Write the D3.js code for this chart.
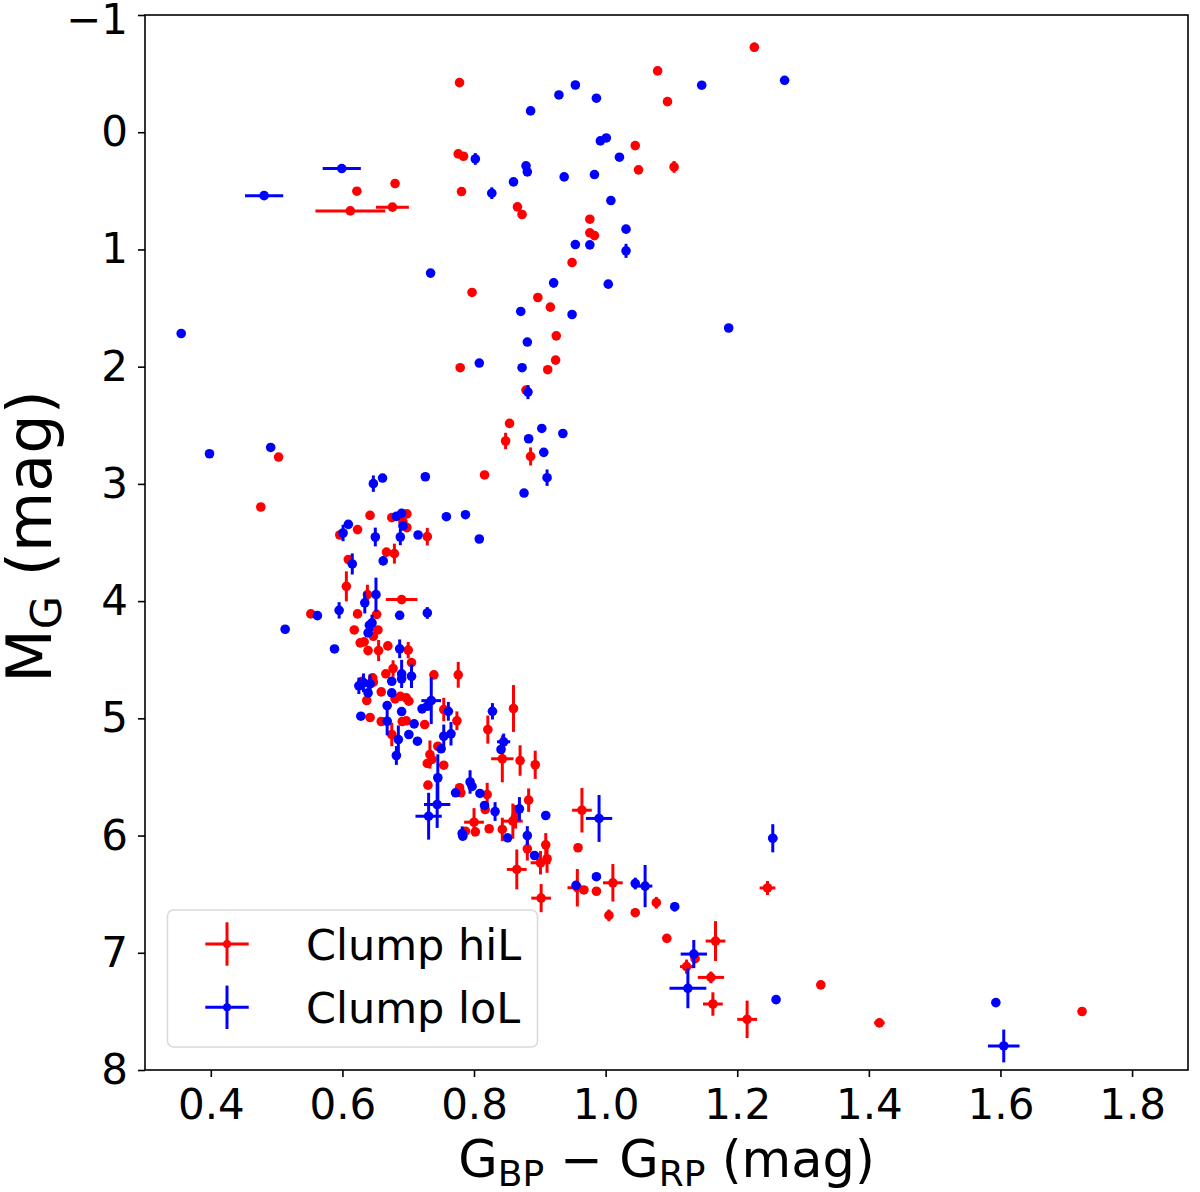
<!DOCTYPE html>
<html>
<head>
<meta charset="utf-8">
<script src="https://cdn.jsdelivr.net/npm/d3@7"></script>
<style>
  html, body { margin: 0; padding: 0; background: #fff; }
  svg { display: block; font-family: "DejaVu Sans", sans-serif; }
</style>
</head>
<body>
<div id="chart"></div>
<script>
// rows: [G_BP - G_RP, M_G, colour error, M_G error]
const hiL = [
  [0.778, -0.423, 0, 0], [0.776, 0.185, 0, 0], [0.784, 0.205, 0, 0], [0.622, 0.503, 0, 0],
  [0.680, 0.438, 0, 0], [0.612, 0.671, 0.053, 0], [0.676, 0.639, 0.025, 0], [0.781, 0.506, 0, 0],
  [0.866, 0.637, 0, 0], [0.873, 0.702, 0, 0], [0.797, 1.367, 0, 0], [0.897, 1.410, 0, 0],
  [0.916, 1.492, 0, 0], [1.226, -0.725, 0, 0.04], [1.079, -0.523, 0, 0], [1.094, -0.261, 0, 0],
  [1.045, 0.114, 0, 0], [1.050, 0.321, 0, 0], [1.104, 0.296, 0, 0.05], [0.976, 0.742, 0, 0],
  [0.976, 0.858, 0, 0], [0.983, 0.882, 0, 0], [0.949, 1.112, 0, 0], [0.925, 1.737, 0, 0],
  [0.924, 1.944, 0, 0], [0.912, 2.026, 0, 0], [0.779, 2.009, 0, 0], [0.879, 2.200, 0, 0],
  [0.854, 2.484, 0, 0], [0.848, 2.634, 0, 0.07], [0.886, 2.766, 0, 0.077], [0.816, 2.924, 0, 0],
  [0.503, 2.771, 0, 0], [0.476, 3.197, 0, 0], [0.642, 3.269, 0, 0], [0.675, 3.288, 0, 0],
  [0.698, 3.256, 0, 0], [0.692, 3.325, 0, 0], [0.698, 3.373, 0, 0], [0.596, 3.436, 0, 0],
  [0.623, 3.390, 0, 0], [0.729, 3.450, 0, 0.075], [0.667, 3.582, 0, 0], [0.679, 3.595, 0, 0.085],
  [0.609, 3.646, 0, 0], [0.606, 3.874, 0, 0.128], [0.690, 3.987, 0.024, 0], [0.638, 3.945, 0, 0.085],
  [0.552, 4.109, 0, 0], [0.623, 4.109, 0, 0], [0.652, 4.113, 0, 0], [0.618, 4.246, 0, 0],
  [0.654, 4.246, 0, 0], [0.627, 4.356, 0, 0], [0.633, 4.348, 0, 0], [0.647, 4.300, 0, 0],
  [0.639, 4.422, 0, 0], [0.655, 4.422, 0, 0.09], [0.669, 4.382, 0, 0], [0.700, 4.418, 0, 0.07],
  [0.705, 4.524, 0, 0], [0.677, 4.575, 0, 0.07], [0.666, 4.620, 0, 0], [0.739, 4.629, 0, 0],
  [0.776, 4.629, 0, 0.11], [0.646, 4.655, 0, 0], [0.630, 4.684, 0, 0], [0.647, 4.692, 0, 0],
  [0.637, 4.848, 0, 0], [0.659, 4.774, 0, 0], [0.680, 4.834, 0, 0], [0.688, 4.812, 0, 0],
  [0.697, 4.825, 0, 0], [0.701, 4.854, 0, 0], [0.642, 4.993, 0, 0], [0.659, 5.027, 0, 0],
  [0.691, 5.027, 0, 0], [0.697, 5.021, 0, 0], [0.725, 5.053, 0, 0], [0.754, 4.925, 0, 0.1],
  [0.774, 5.021, 0, 0.08], [0.860, 4.916, 0, 0.2], [0.821, 5.096, 0, 0.12], [0.843, 5.345, 0.017, 0.2],
  [0.870, 5.360, 0, 0.13], [0.893, 5.396, 0, 0.12], [0.675, 5.138, 0, 0.1], [0.745, 5.238, 0, 0],
  [0.733, 5.309, 0, 0.12], [0.736, 5.351, 0, 0], [0.729, 5.385, 0, 0], [0.754, 5.400, 0, 0],
  [0.730, 5.570, 0, 0], [0.778, 5.592, 0, 0], [0.780, 5.635, 0, 0], [0.820, 5.650, 0, 0.1],
  [0.817, 5.778, 0, 0], [0.800, 5.886, 0.015, 0.12], [0.787, 5.963, 0, 0], [0.802, 5.968, 0, 0],
  [0.823, 5.942, 0, 0], [0.843, 5.948, 0, 0.1], [0.859, 5.877, 0.015, 0.15], [0.863, 5.840, 0, 0.1],
  [0.883, 5.698, 0, 0.1], [0.881, 6.113, 0, 0.1], [0.909, 6.079, 0, 0.1], [0.901, 6.232, 0.015, 0.1],
  [0.911, 6.198, 0, 0.12], [0.865, 6.289, 0.015, 0.17], [0.902, 6.534, 0.015, 0.12], [0.964, 5.784, 0.015, 0.19],
  [0.958, 6.104, 0, 0], [0.957, 6.445, 0.015, 0.16], [0.967, 6.464, 0, 0], [0.986, 6.475, 0, 0],
  [1.011, 6.403, 0.015, 0.16], [1.005, 6.681, 0, 0.05], [1.045, 6.658, 0, 0], [1.077, 6.573, 0, 0.05],
  [1.093, 6.877, 0, 0], [1.136, 7.050, 0, 0], [1.123, 7.118, 0.01, 0.06], [1.167, 6.900, 0.015, 0.17],
  [1.160, 7.210, 0.02, 0.05], [1.163, 7.437, 0.015, 0.1], [1.215, 7.568, 0.015, 0.16], [1.246, 6.447, 0.012, 0.06],
  [1.327, 7.274, 0, 0], [1.416, 7.598, 0.008, 0.03], [1.724, 7.501, 0, 0.02]
];

const loL = [
  [0.929, -0.318, 0, 0], [0.886, -0.182, 0, 0], [0.802, 0.228, 0, 0.05], [0.879, 0.287, 0, 0],
  [0.881, 0.338, 0, 0], [0.937, 0.381, 0, 0], [0.599, 0.310, 0.029, 0], [0.481, 0.541, 0.029, 0],
  [0.827, 0.520, 0, 0.05], [0.860, 0.424, 0, 0], [0.734, 1.202, 0, 0], [0.921, 1.285, 0, 0.04],
  [0.871, 1.529, 0, 0], [1.272, -0.443, 0, 0], [1.146, -0.401, 0, 0], [0.954, -0.403, 0, 0],
  [0.986, -0.290, 0, 0], [0.992, 0.074, 0, 0], [1.001, 0.049, 0, 0], [1.021, 0.213, 0, 0],
  [0.983, 0.361, 0, 0], [1.008, 0.583, 0, 0], [1.031, 0.827, 0, 0], [0.954, 0.958, 0, 0],
  [0.976, 0.961, 0, 0], [1.031, 1.012, 0, 0.06], [1.004, 1.296, 0, 0], [0.949, 1.555, 0, 0],
  [0.881, 1.790, 0, 0], [0.808, 1.969, 0, 0], [0.873, 2.009, 0, 0], [0.882, 2.217, 0, 0.06],
  [0.903, 2.527, 0, 0], [0.883, 2.615, 0, 0], [0.935, 2.570, 0, 0], [0.906, 2.731, 0, 0],
  [0.911, 2.947, 0, 0.07], [0.876, 3.078, 0, 0], [0.726, 2.939, 0, 0], [1.187, 1.670, 0, 0],
  [0.355, 1.717, 0, 0], [0.398, 2.743, 0, 0], [0.491, 2.689, 0, 0], [0.647, 2.998, 0, 0.07],
  [0.661, 2.950, 0, 0], [0.682, 3.277, 0, 0], [0.690, 3.251, 0, 0], [0.692, 3.359, 0, 0],
  [0.758, 3.280, 0, 0], [0.787, 3.263, 0, 0], [0.808, 3.470, 0, 0], [0.609, 3.345, 0, 0],
  [0.601, 3.419, 0, 0.07], [0.650, 3.453, 0, 0.08], [0.688, 3.453, 0, 0.07], [0.715, 3.436, 0, 0],
  [0.662, 3.657, 0, 0], [0.615, 3.683, 0, 0.09], [0.651, 3.945, 0, 0.145], [0.634, 4.015, 0, 0.09],
  [0.562, 4.124, 0, 0], [0.595, 4.079, 0, 0.07], [0.687, 4.121, 0, 0], [0.729, 4.101, 0, 0.05],
  [0.513, 4.240, 0, 0], [0.645, 4.186, 0, 0.07], [0.641, 4.206, 0, 0], [0.639, 4.271, 0, 0],
  [0.588, 4.408, 0, 0], [0.687, 4.407, 0, 0.08], [0.690, 4.621, 0, 0.12], [0.690, 4.663, 0, 0],
  [0.705, 4.641, 0, 0.1], [0.625, 4.723, 0, 0.07], [0.632, 4.697, 0, 0.08], [0.642, 4.706, 0, 0.08],
  [0.639, 4.783, 0, 0], [0.675, 4.684, 0, 0], [0.675, 4.783, 0, 0], [0.668, 4.891, 0, 0],
  [0.690, 4.942, 0, 0], [0.628, 4.982, 0, 0], [0.668, 5.025, 0, 0.12], [0.709, 5.047, 0, 0],
  [0.721, 4.919, 0, 0], [0.729, 4.897, 0, 0], [0.735, 4.849, 0.015, 0.2], [0.761, 4.940, 0, 0.08],
  [0.828, 4.940, 0, 0.07], [0.845, 5.200, 0.01, 0.07], [0.841, 5.266, 0, 0], [0.685, 5.181, 0, 0.12],
  [0.682, 5.317, 0, 0.08], [0.701, 5.138, 0, 0], [0.714, 5.195, 0, 0], [0.754, 5.153, 0, 0.1],
  [0.765, 5.132, 0, 0.1], [0.750, 5.260, 0, 0], [0.745, 5.507, 0, 0.2], [0.744, 5.735, 0.02, 0.2],
  [0.731, 5.835, 0.02, 0.2], [0.772, 5.635, 0, 0], [0.794, 5.543, 0, 0.1], [0.797, 5.581, 0, 0],
  [0.809, 5.641, 0, 0], [0.816, 5.743, 0, 0], [0.832, 5.795, 0, 0.08], [0.782, 5.982, 0, 0.06],
  [0.783, 6.005, 0, 0], [0.851, 6.019, 0, 0], [0.869, 5.772, 0, 0.1], [0.881, 6.000, 0, 0.08],
  [0.892, 6.170, 0, 0], [0.909, 5.829, 0, 0], [0.990, 5.854, 0.02, 0.2], [0.955, 6.425, 0, 0],
  [0.986, 6.351, 0, 0], [1.045, 6.409, 0, 0.05], [1.060, 6.431, 0.011, 0.18], [1.105, 6.607, 0, 0.04],
  [1.134, 7.011, 0.02, 0.12], [1.125, 7.303, 0.028, 0.17], [1.259, 7.400, 0, 0], [1.254, 6.023, 0.007, 0.12],
  [1.593, 7.425, 0, 0], [1.605, 7.795, 0.024, 0.14]
];

const seriesNames = ["Clump hiL", "Clump loL"];
const seriesColors = ["#ff0000", "#0000ff"];
const xTicks = [0.4, 0.6, 0.8, 1.0, 1.2, 1.4, 1.6, 1.8];
const yTicks = [-1, 0, 1, 2, 3, 4, 5, 6, 7, 8];

const width = 1200;
const height = 1192;
const margin = { top: 15, right: 12, bottom: 122, left: 145 };

const svg = d3.select("#chart").append("svg").attr("width", width).attr("height", height);

// scales (magnitude axis inverted)
const x = d3.scaleLinear().domain([0.30, 1.885]).range([margin.left, width - margin.right]);
const y = d3.scaleLinear().domain([-1, 8]).range([margin.top, height - margin.bottom]);

// axes
const xAxis = svg
  .append("g")
  .attr("transform", `translate(0,${height - margin.bottom})`)
  .call(d3.axisBottom(x).tickValues(xTicks).tickFormat(d3.format(".1f")).tickSize(7).tickPadding(12));

const yAxis = svg
  .append("g")
  .attr("transform", `translate(${margin.left},0)`)
  .call(d3.axisLeft(y).tickValues(yTicks).tickFormat(d3.format("d")).tickSize(7).tickPadding(10));

[xAxis, yAxis].forEach((g) => {
  g.select(".domain").remove();
  g.selectAll(".tick line").attr("stroke", "#000").attr("stroke-width", 1.6);
  g.selectAll(".tick text").attr("fill", "#000").style("font-size", "42px").style("font-family", "DejaVu Sans");
});
// top label sits a little lower so it is not clipped
yAxis.selectAll(".tick text").filter((d) => d === -1).attr("dy", "0.45em");

// frame
svg
  .append("rect")
  .attr("x", margin.left)
  .attr("y", margin.top)
  .attr("width", width - margin.left - margin.right)
  .attr("height", height - margin.top - margin.bottom)
  .attr("fill", "none")
  .attr("stroke", "#000")
  .attr("stroke-width", 1.6);

// error bars + points, hiL first so loL sits on top
const plot = svg.append("g");
[hiL, loL].forEach((rows, i) => {
  const g = plot.append("g").attr("stroke", seriesColors[i]).attr("fill", seriesColors[i]);

  g.selectAll("line.ex")
    .data(rows.filter((d) => d[2] > 0))
    .join("line")
    .attr("class", "ex")
    .attr("x1", (d) => x(d[0] - d[2]))
    .attr("x2", (d) => x(d[0] + d[2]))
    .attr("y1", (d) => y(d[1]))
    .attr("y2", (d) => y(d[1]))
    .attr("stroke-width", 3);

  g.selectAll("line.ey")
    .data(rows.filter((d) => d[3] > 0))
    .join("line")
    .attr("class", "ey")
    .attr("x1", (d) => x(d[0]))
    .attr("x2", (d) => x(d[0]))
    .attr("y1", (d) => y(d[1] - d[3]))
    .attr("y2", (d) => y(d[1] + d[3]))
    .attr("stroke-width", 3);

  g.selectAll("circle")
    .data(rows)
    .join("circle")
    .attr("cx", (d) => x(d[0]))
    .attr("cy", (d) => y(d[1]))
    .attr("r", 4.8)
    .attr("stroke", "none");
});

// axis labels
const xLabel = svg
  .append("text")
  .attr("x", (margin.left + width - margin.right) / 2)
  .attr("y", 1177)
  .attr("text-anchor", "middle")
  .style("font-size", "51px")
  .attr("fill", "#000");
xLabel.append("tspan").text("G");
xLabel.append("tspan").attr("dy", 9).style("font-size", "36px").text("BP");
xLabel.append("tspan").attr("dy", -9).text(" \u2212 G");
xLabel.append("tspan").attr("dy", 9).style("font-size", "36px").text("RP");
xLabel.append("tspan").attr("dy", -9).text(" (mag)");

const yLabel = svg
  .append("text")
  .attr("transform", `translate(51,${(margin.top + height - margin.bottom) / 2 - 6}) rotate(-90)`)
  .attr("text-anchor", "middle")
  .style("font-size", "62px")
  .attr("fill", "#000");
yLabel.append("tspan").text("M");
yLabel.append("tspan").attr("dy", 10).style("font-size", "43px").text("G");
yLabel.append("tspan").attr("dy", -10).text(" (mag)");

// legend
const legend = svg.append("g");
legend
  .append("rect")
  .attr("x", 167.5)
  .attr("y", 910)
  .attr("width", 370)
  .attr("height", 137)
  .attr("rx", 6)
  .attr("fill", "#fff")
  .attr("fill-opacity", 0.8)
  .attr("stroke", "#d9d9d9")
  .attr("stroke-width", 1.5);

seriesNames.forEach((name, i) => {
  const cy = 944 + i * 63.3;
  const cx = 227;
  const item = legend.append("g").attr("stroke", seriesColors[i]).attr("fill", seriesColors[i]);
  item.append("line").attr("x1", cx - 21.7).attr("x2", cx + 21.7).attr("y1", cy).attr("y2", cy).attr("stroke-width", 3);
  item.append("line").attr("x1", cx).attr("x2", cx).attr("y1", cy - 21.7).attr("y2", cy + 21.7).attr("stroke-width", 3);
  item.append("circle").attr("cx", cx).attr("cy", cy).attr("r", 4).attr("stroke", "none");
  legend
    .append("text")
    .attr("x", 306)
    .attr("y", cy + 16)
    .style("font-size", "43px")
    .attr("fill", "#000")
    .text(name);
});
</script>
</body>
</html>
